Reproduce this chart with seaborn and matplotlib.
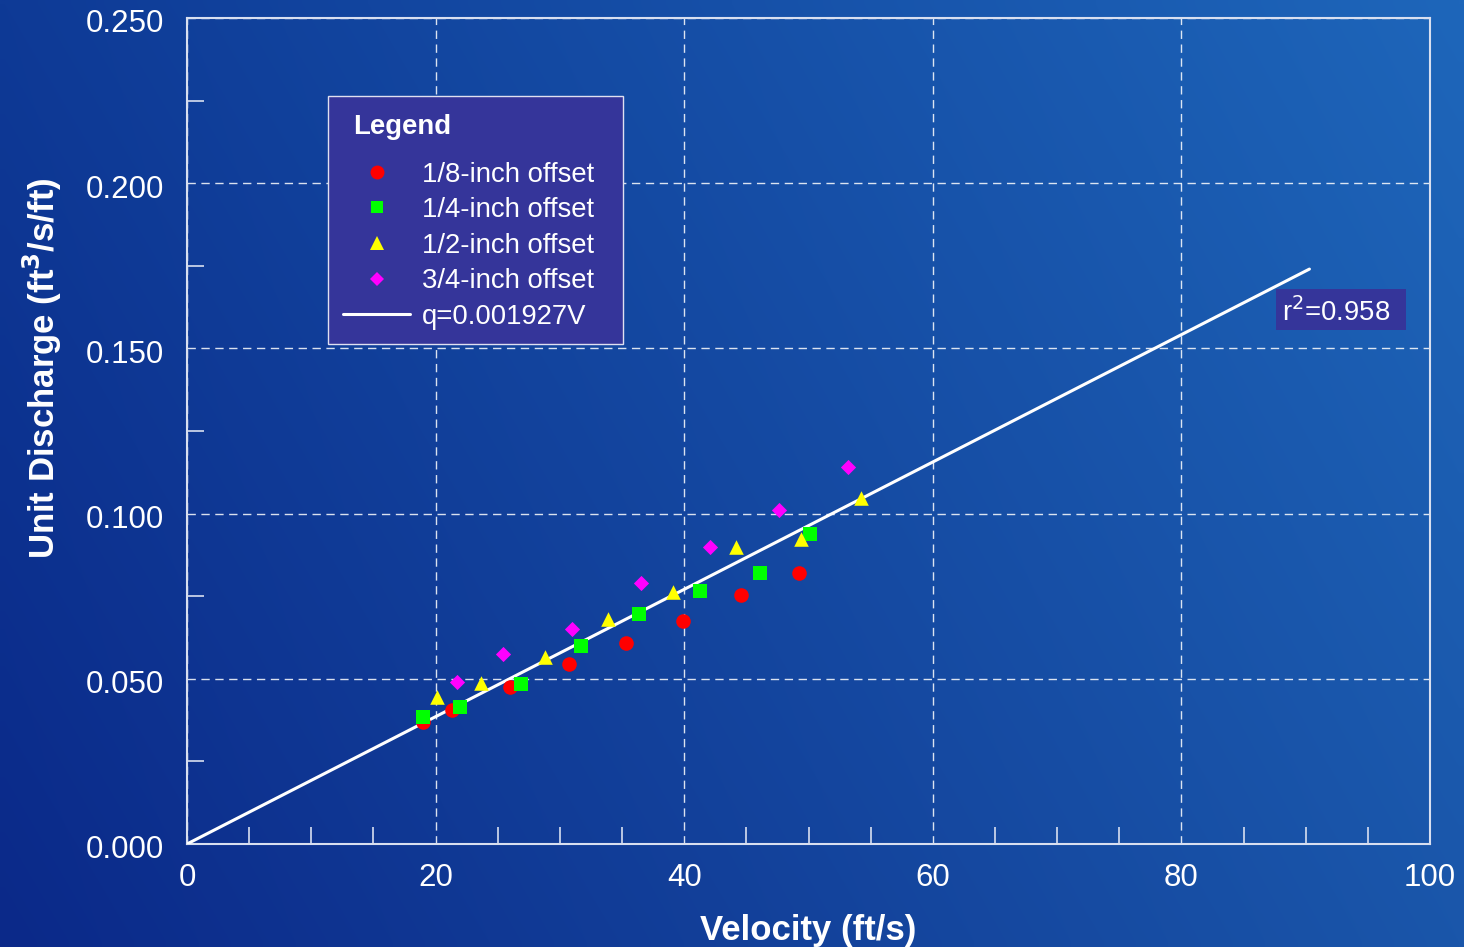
import numpy as np
import pandas as pd
import matplotlib
matplotlib.use("Agg")
import matplotlib.pyplot as plt
from matplotlib.lines import Line2D
from matplotlib.patches import Rectangle
from matplotlib.transforms import ScaledTranslation
from matplotlib.ticker import MultipleLocator, FormatStrFormatter
import seaborn as sns

# ---- data ----
v_eighth = [19.0, 21.3, 26.0, 30.7, 35.3, 39.9, 44.6, 49.2]
q_eighth = [0.0370, 0.0406, 0.0474, 0.0545, 0.0609, 0.0676, 0.0755, 0.0819]
v_quarter = [19.0, 22.0, 26.9, 31.7, 36.4, 41.3, 46.1, 50.1]
q_quarter = [0.0385, 0.0414, 0.0484, 0.0599, 0.0696, 0.0767, 0.0819, 0.0937]
v_half = [20.1, 23.65, 28.8, 33.9, 39.1, 44.2, 49.4, 54.2]
q_half = [0.0444, 0.0488, 0.0567, 0.0680, 0.0763, 0.0900, 0.0922, 0.1046]
v_3q = [21.7, 25.45, 31.0, 36.5, 42.1, 47.6, 53.2]
q_3q = [0.0491, 0.0575, 0.0651, 0.0789, 0.0898, 0.1011, 0.1142]
series_names = ["1/8-inch offset", "1/4-inch offset", "1/2-inch offset", "3/4-inch offset"]
fit_slope = 0.001927
fit_v = [0.0, 90.3]
fit_label = "q=0.001927V"
legend_title = "Legend"
r2_text = "r$^2$=0.958"

colors = ["#ff0000", "#00ff00", "#ffff00", "#ff00ff"]
markers = ["o", "s", "^", "D"]
sizes = [110, 100, 110, 60]

rows = []
for name, vs, qs in zip(series_names, [v_eighth, v_quarter, v_half, v_3q],
                        [q_eighth, q_quarter, q_half, q_3q]):
    for v, q in zip(vs, qs):
        rows.append({"Velocity": v, "q": q, "Series": name})
df = pd.DataFrame(rows)
fit_df = pd.DataFrame({"Velocity": fit_v, "q": [fit_slope * v for v in fit_v]})

sns.set_theme(style="ticks")
plt.rcParams["font.family"] = ["Liberation Sans", "DejaVu Sans"]

W, H = 1464, 947
fig = plt.figure(figsize=(W / 100, H / 100), dpi=100)

# background gradient
bg = fig.add_axes([0, 0, 1, 1], zorder=-10)
tl = np.array([0x0e, 0x3a, 0x96]) / 255
tr = np.array([0x1e, 0x66, 0xba]) / 255
bl = np.array([0x0b, 0x29, 0x89]) / 255
br = np.array([0x1a, 0x56, 0xaa]) / 255
ny, nx = 100, 150
yy = np.linspace(0, 1, ny)[:, None, None]
xx = np.linspace(0, 1, nx)[None, :, None]
img = (1 - yy) * ((1 - xx) * tl + xx * tr) + yy * ((1 - xx) * bl + xx * br)
bg.imshow(img, aspect="auto", extent=[0, 1, 0, 1], interpolation="bilinear")
bg.axis("off")

ax = fig.add_axes([187 / W, 1 - 844 / H, (1430 - 187) / W, (844 - 18) / H])
ax.set_facecolor("none")

for name, c, m, s in zip(series_names, colors, markers, sizes):
    sub = df[df["Series"] == name]
    sns.scatterplot(data=sub, x="Velocity", y="q", color=c, marker=m, s=s,
                    linewidth=0, ax=ax, zorder=4, legend=False)
sns.lineplot(data=fit_df, x="Velocity", y="q", color="white", linewidth=2.2,
             ax=ax, zorder=3, legend=False)

ax.set_xlim(0, 100)
ax.set_ylim(0, 0.25)
ax.xaxis.set_major_locator(MultipleLocator(20))
ax.xaxis.set_minor_locator(MultipleLocator(5))
ax.yaxis.set_major_locator(MultipleLocator(0.05))
ax.yaxis.set_minor_locator(MultipleLocator(0.025))
ax.yaxis.set_major_formatter(FormatStrFormatter("%.3f"))

ax.grid(True, which="major", color="white", linestyle=(0, (6, 4)), linewidth=1.0, alpha=0.85)
ax.tick_params(which="major", length=0, labelsize=22.5, labelcolor="white")
ax.tick_params(axis="x", which="major", pad=14)
ax.tick_params(axis="y", which="major", pad=16.5)
ax.tick_params(which="minor", direction="in", length=12, width=1.2, color="#d8dff0")
shift = ScaledTranslation(0, -3 / 100, fig.dpi_scale_trans)
for t in ax.yaxis.get_major_ticks():
    t.label1.set_transform(t.label1.get_transform() + shift)
for sp in ax.spines.values():
    sp.set_color("#d8dff0")
    sp.set_linewidth(1.5)

ax.set_xlabel("Velocity (ft/s)", fontsize=25, fontweight="bold", color="white", labelpad=15)
ax.set_ylabel("Unit Discharge (ft$^{\\mathbf{3}}$/s/ft)", fontsize=25, fontweight="bold",
              color="white")
ax.yaxis.set_label_coords((64 - 187) / 1243, (844 - 368) / 826)

# legend box drawn as a patch, with title text and frameless legend inside
fig.patches.append(Rectangle((328 / W, 1 - 344 / H), (623 - 328) / W, (344 - 96) / H,
                             transform=fig.transFigure, facecolor="#35359a",
                             edgecolor="#e0e0f0", linewidth=1.0, zorder=5))
fig.text(353 / W, 1 - 127 / H, legend_title, fontsize=19.8, fontweight="bold",
         color="white", va="center", ha="left", zorder=7)

handles = [Line2D([], [], linestyle="none", marker=m, color=c, markersize=s,
                  markeredgewidth=0)
           for c, m, s in zip(colors, markers, [10, 9, 10, 7])]
handles.append(Line2D([], [], color="white", linewidth=2.2))
leg = fig.legend(handles, series_names + [fit_label],
                 loc="upper left", bbox_to_anchor=(343 / W, 1 - 161.5 / H),
                 bbox_transform=fig.transFigure,
                 fontsize=19.8, frameon=False, labelcolor="white",
                 handlelength=2.44, handletextpad=0.44,
                 borderpad=0, labelspacing=0.35, borderaxespad=0)
leg.set_zorder(7)

fig.patches.append(Rectangle((1276 / W, 1 - 330 / H), (1406 - 1276) / W, (330 - 289) / H,
                             transform=fig.transFigure, facecolor="#35359a",
                             edgecolor="none", zorder=6))
fig.text(1282 / W, 1 - 312 / H, r2_text, fontsize=19.8,
         color="white", va="center", ha="left", zorder=7)

fig.savefig("out.png", dpi=100)
